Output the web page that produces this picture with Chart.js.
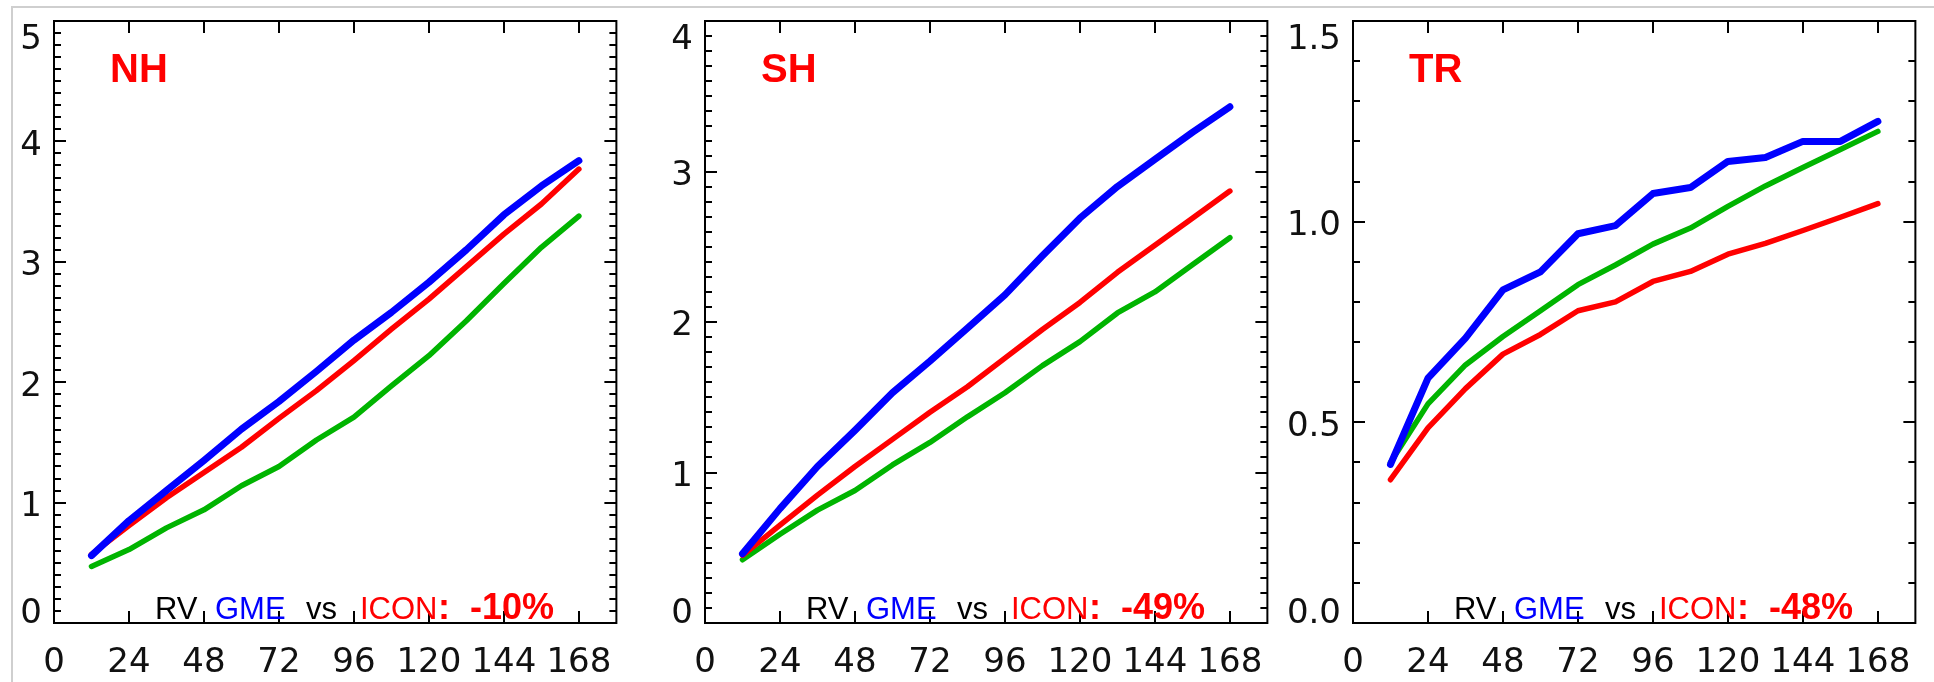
<!DOCTYPE html>
<html>
<head>
<meta charset="utf-8">
<script src="https://cdn.jsdelivr.net/npm/chart.js@4.4.1/dist/chart.umd.min.js"></script>
<style>
  html, body { margin: 0; padding: 0; background: #fff; }
  #page { position: relative; width: 1934px; height: 682px; overflow: hidden; background: #fff; }
  .edge-top { position: absolute; left: 11px; top: 6px; width: 1923px; height: 2px; background: #cfcfcf; }
  .edge-left { position: absolute; left: 11px; top: 6px; width: 2px; height: 676px; background: #cfcfcf; }
  .panel { position: absolute; top: 0; height: 682px; }
</style>
</head>
<body>
<div id="page">
  <div class="edge-top"></div>
  <div class="edge-left"></div>
  <div class="panel" style="left:0px;width:632px"><canvas id="nh" width="632" height="682"></canvas></div>
  <div class="panel" style="left:645px;width:638px"><canvas id="sh" width="638" height="682"></canvas></div>
  <div class="panel" style="left:1283px;width:648px"><canvas id="tr" width="648" height="682"></canvas></div>
</div>
<script>
// ── DATA ──
const hours  = [12, 24, 36, 48, 60, 72, 84, 96, 108, 120, 132, 144, 156, 168];
const xTicks = [0, 24, 48, 72, 96, 120, 144, 168];

// NH
const nhGME  = [0.56, 0.85, 1.10, 1.35, 1.61, 1.84, 2.09, 2.35, 2.58, 2.83, 3.10, 3.39, 3.63, 3.84];
const nhICON = [0.57, 0.81, 1.04, 1.25, 1.46, 1.70, 1.93, 2.18, 2.44, 2.69, 2.96, 3.23, 3.48, 3.77];
const nhRef  = [0.47, 0.61, 0.79, 0.94, 1.14, 1.30, 1.52, 1.71, 1.97, 2.22, 2.51, 2.82, 3.12, 3.38];
const nhYTicks = [0, 1, 2, 3, 4, 5];

// SH
const shGME  = [0.46, 0.76, 1.04, 1.28, 1.53, 1.74, 1.96, 2.18, 2.44, 2.69, 2.90, 3.08, 3.26, 3.43];
const shICON = [0.45, 0.65, 0.85, 1.04, 1.22, 1.40, 1.57, 1.76, 1.95, 2.13, 2.33, 2.51, 2.69, 2.87];
const shRef  = [0.42, 0.59, 0.75, 0.88, 1.05, 1.20, 1.37, 1.53, 1.71, 1.87, 2.06, 2.20, 2.38, 2.56];
const shYTicks = [0, 1, 2, 3, 4];

// TR
const trGME  = [0.395, 0.61, 0.71, 0.83, 0.875, 0.97, 0.99, 1.07, 1.085, 1.15, 1.16, 1.20, 1.20, 1.25];
const trICON = [0.357, 0.486, 0.584, 0.67, 0.719, 0.778, 0.80, 0.851, 0.876, 0.919, 0.946, 0.978, 1.011, 1.045];
const trRef  = [0.40, 0.546, 0.643, 0.714, 0.778, 0.843, 0.892, 0.944, 0.984, 1.038, 1.089, 1.135, 1.18, 1.225];
const trYTicks = [0, 0.5, 1.0, 1.5];

const TICK_FONT = "'DejaVu Sans', sans-serif";
const TEXT_FONT = "'Liberation Sans', Arial, sans-serif";
const TICK_SIZE = 34;
const BLUE = '#0000ff', RED = '#ff0000', GREEN = '#00b400';

// ── FRAME, INWARD TICKS, LABELS ──
const framePlugin = {
  id: 'frame',
  afterDatasetsDraw(chart, args, o) {
    const { ctx, chartArea: a, scales: { x, y } } = chart;
    const line = (x1, y1, x2, y2) => { ctx.beginPath(); ctx.moveTo(x1, y1); ctx.lineTo(x2, y2); ctx.stroke(); };
    ctx.save();
    ctx.strokeStyle = '#000';
    ctx.lineWidth = 2;
    ctx.lineCap = 'butt';
    ctx.strokeRect(a.left, a.top, a.right - a.left, a.bottom - a.top);

    xTicks.forEach(v => {
      const px = Math.round(x.getPixelForValue(v));
      line(px, a.bottom, px, a.bottom - 12);
      line(px, a.top, px, a.top + 12);
    });

    // minor every 0.1, major at labelled values
    const yMax = o.yTicks[o.yTicks.length - 1];
    for (let i = 0; i <= Math.round(yMax * 10); i++) {
      const v = i / 10;
      const major = o.yTicks.some(t => Math.abs(t - v) < 1e-6);
      const len = major ? 12 : 7;
      const py = Math.round(y.getPixelForValue(v));
      line(a.left, py, a.left + len, py);
      line(a.right, py, a.right - len, py);
    }

    // y labels, kept inside the frame at the ends
    ctx.fillStyle = '#111';
    ctx.font = `${TICK_SIZE}px ${TICK_FONT}`;
    ctx.textAlign = 'right';
    ctx.textBaseline = 'alphabetic';
    const capH = TICK_SIZE * 0.729;
    o.yTicks.forEach(v => {
      let cy = y.getPixelForValue(v) + 1;
      cy = Math.max(a.top + 3 + capH / 2, Math.min(a.bottom - capH / 2, cy));
      ctx.fillText(o.yDigits ? v.toFixed(o.yDigits) : String(v), a.left - 12, cy + capH / 2);
    });

    // panel title
    ctx.textAlign = 'left';
    ctx.fillStyle = RED;
    ctx.font = `bold 40px ${TEXT_FONT}`;
    ctx.fillText(o.title, a.left + 56, a.top + 61);

    // RV annotation
    const base = a.bottom - 4;
    const segs = [
      ['RV', '#000', false, 101],
      ['GME', BLUE, false, 161],
      ['vs', '#000', false, 252],
      ['ICON', RED, false, 306],
      [':', RED, true, 384],
      [o.pct, RED, true, 416]
    ];
    segs.forEach(([t, c, b, dx]) => {
      ctx.fillStyle = c;
      ctx.font = b ? `bold 36px ${TEXT_FONT}` : `31px ${TEXT_FONT}`;
      ctx.fillText(t, a.left + dx, base);
    });
    ctx.restore();
  }
};

function lineStyle(color, width) {
  return {
    borderColor: color,
    backgroundColor: color,
    borderWidth: width,
    pointRadius: 0,
    tension: 0,
    borderJoinStyle: 'round',
    borderCapStyle: 'round'
  };
}

function buildPanel(id, gme, icon, ref, yMax, yTicks, yDigits, title, pct, padLeft) {
  const ctx = document.getElementById(id).getContext('2d');
  return new Chart(ctx, {
    type: 'line',
    data: {
      labels: hours,
      datasets: [
        { label: 'GME', data: hours.map((h, i) => ({ x: h, y: gme[i] })), ...lineStyle(BLUE, 7) },
        { label: 'ICON', data: hours.map((h, i) => ({ x: h, y: icon[i] })), ...lineStyle(RED, 5.5) },
        { label: 'ref', data: hours.map((h, i) => ({ x: h, y: ref[i] })), ...lineStyle(GREEN, 5.5) }
      ]
    },
    options: {
      animation: false,
      responsive: false,
      devicePixelRatio: 1,
      layout: { padding: { left: padLeft, right: 10, top: 21, bottom: 0 } },
      plugins: {
        legend: { display: false },
        tooltip: { enabled: false },
        frame: { title, pct, yTicks, yDigits }
      },
      scales: {
        x: {
          type: 'linear',
          min: 0,
          max: 180,
          grid: { display: false, drawTicks: false },
          border: { display: false },
          ticks: {
            stepSize: 24,
            includeBounds: false,
            autoSkip: false,
            maxRotation: 0,
            padding: 20,
            color: '#111',
            font: { family: TICK_FONT, size: TICK_SIZE },
            callback: v => xTicks.includes(v) ? String(v) : ''
          },
          afterFit: s => { s.height = 59; }
        },
        y: {
          display: false,
          min: 0,
          max: yMax
        }
      }
    },
    plugins: [framePlugin]
  });
}

buildPanel('nh', nhGME, nhICON, nhRef, 5, nhYTicks, 0, 'NH', '-10%', 54);
buildPanel('sh', shGME, shICON, shRef, 4, shYTicks, 0, 'SH', '-49%', 60);
buildPanel('tr', trGME, trICON, trRef, 1.5, trYTicks, 1, 'TR', '-48%', 70);
</script>
</body>
</html>
